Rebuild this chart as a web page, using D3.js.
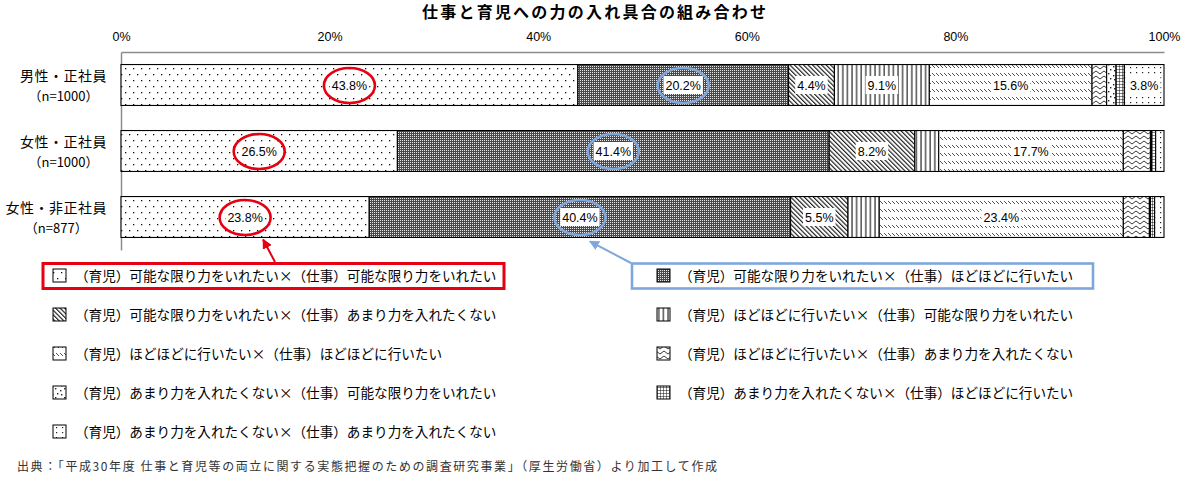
<!DOCTYPE html>
<html><head><meta charset="utf-8">
<script src="https://cdn.jsdelivr.net/npm/d3@7"></script>
<style>
html,body{margin:0;padding:0;background:#fff;}
svg{display:block;}
text{font-family:"Liberation Sans","Noto Sans CJK JP",sans-serif;}
.jp{font-family:"Noto Sans CJK JP","Liberation Sans",sans-serif;}
</style></head>
<body>
<svg id="chart" width="1186" height="484"></svg>
<script>
const title = "仕事と育児への力の入れ具合の組み合わせ";
const categories = ["男性・正社員", "女性・正社員", "女性・非正社員"];
const sampleSizes = ["（n=1000）", "（n=1000）", "（n=877）"];
const seriesNames = [
  "（育児）可能な限り力をいれたい×（仕事）可能な限り力をいれたい",
  "（育児）可能な限り力をいれたい×（仕事）ほどほどに行いたい",
  "（育児）可能な限り力をいれたい×（仕事）あまり力を入れたくない",
  "（育児）ほどほどに行いたい×（仕事）可能な限り力をいれたい",
  "（育児）ほどほどに行いたい×（仕事）ほどほどに行いたい",
  "（育児）ほどほどに行いたい×（仕事）あまり力を入れたくない",
  "（育児）あまり力を入れたくない×（仕事）可能な限り力をいれたい",
  "（育児）あまり力を入れたくない×（仕事）ほどほどに行いたい",
  "（育児）あまり力を入れたくない×（仕事）あまり力を入れたくない"
];
const kanouKanou = [43.8, 26.5, 23.8];
const kanouHodo  = [20.2, 41.4, 40.4];
const kanouAmari = [4.4, 8.2, 5.5];
const hodoKanou  = [9.1, 2.3, 3.0];
const hodoHodo   = [15.6, 17.7, 23.4];
const hodoAmari  = [1.4, 2.6, 2.5];
const amariKanou = [0.9, 0.1, 0.1];
const amariHodo  = [0.8, 0.4, 0.4];
const amariAmari = [3.8, 0.8, 0.9];
const tickValues = [0, 20, 40, 60, 80, 100];
const tickLabels = ["0%", "20%", "40%", "60%", "80%", "100%"];
const footnote = "出典：「平成30年度 仕事と育児等の両立に関する実態把握のための調査研究事業」（厚生労働省）より加工して作成";

const seriesValues = [kanouKanou, kanouHodo, kanouAmari, hodoKanou, hodoHodo, hodoAmari, amariKanou, amariHodo, amariAmari];

const svg = d3.select("#chart");
const defs = svg.append("defs");

// ---- patterns ----
function pat(id, w, h, bg) {
  const p = defs.append("pattern").attr("id", id).attr("patternUnits", "userSpaceOnUse")
    .attr("width", w).attr("height", h);
  p.append("rect").attr("width", w).attr("height", h).attr("fill", bg || "#fff");
  return p;
}
// 0 sparse offset dots
let p = pat("p0", 8, 12);
p.append("rect").attr("x", 1).attr("y", 2).attr("width", 1.3).attr("height", 1.3).attr("fill", "#111");
p.append("rect").attr("x", 5).attr("y", 8).attr("width", 1.3).attr("height", 1.3).attr("fill", "#111");
// 1 fine dark checker
p = pat("p1", 2, 2, "#4a4a4a");
p.append("rect").attr("x", 0).attr("y", 0).attr("width", 1).attr("height", 1).attr("fill", "#e8e8e8");
// 2 dense diagonal "\"
p = defs.append("pattern").attr("id", "p2").attr("patternUnits", "userSpaceOnUse")
  .attr("width", 3.2).attr("height", 10).attr("patternTransform", "rotate(-45)");
p.append("rect").attr("width", 3.2).attr("height", 10).attr("fill", "#fff");
p.append("line").attr("x1", 0.6).attr("y1", 0).attr("x2", 0.6).attr("y2", 10).attr("stroke", "#111").attr("stroke-width", 1.1);
// 3 vertical lines
p = pat("p3", 4.6, 10);
p.append("line").attr("x1", 1).attr("y1", 0).attr("x2", 1).attr("y2", 10).attr("stroke", "#111").attr("stroke-width", 1.1);
// 4 rows of short diagonal dashes
p = pat("p4", 4, 8);
p.append("line").attr("x1", 0).attr("y1", 1).attr("x2", 3).attr("y2", 4).attr("stroke", "#555").attr("stroke-width", 1);
// 5 waves
p = pat("p5", 8, 5);
p.append("path").attr("d", "M0,1 L4,4 L8,1").attr("fill", "none").attr("stroke", "#222").attr("stroke-width", 0.9);
// 6 confetti
p = pat("p6", 9, 9);
[[1, 1], [6, 3], [3, 6], [7, 7]].forEach(d => p.append("rect").attr("x", d[0]).attr("y", d[1]).attr("width", 1.4).attr("height", 1.4).attr("fill", "#222"));
// 7 grid
p = pat("p7", 3, 3);
p.append("path").attr("d", "M0,0 H3 M0,0 V3").attr("stroke", "#111").attr("stroke-width", 1);
// 8 regular dots
p = pat("p8", 6, 5);
p.append("rect").attr("x", 2).attr("y", 2).attr("width", 1.2).attr("height", 1.2).attr("fill", "#222");

const patterns = ["p0", "p1", "p2", "p3", "p4", "p5", "p6", "p7", "p8"];

// ---- markers ----
function marker(id, color) {
  defs.append("marker").attr("id", id).attr("viewBox", "0 0 10 10").attr("refX", 9).attr("refY", 5)
    .attr("markerWidth", 10).attr("markerHeight", 10).attr("markerUnits", "userSpaceOnUse").attr("orient", "auto")
    .append("path").attr("d", "M0,0 L10,5 L0,10 Z").attr("fill", color);
}
const RED = "#e60012", BLUE = "#7ea7dd";
marker("arrRed", RED);
marker("arrBlue", BLUE);

// ---- scales ----
const x = d3.scaleLinear().domain([0, 100]).range([121, 1164]);
const y = d3.scaleBand().domain(categories).range([52, 250]).paddingInner(0.38).paddingOuter(0.19);

// title
svg.append("text").attr("class", "jp").attr("x", 594).attr("y", 18).attr("text-anchor", "middle")
  .attr("font-size", 16).attr("font-weight", "bold").attr("textLength", 344).attr("lengthAdjust", "spacing")
  .text(title);

// top axis
const axT = svg.append("g").attr("transform", "translate(0,52)")
  .call(d3.axisTop(x).tickValues(tickValues).tickSize(0).tickPadding(11).tickFormat((d, i) => tickLabels[i]));
axT.select(".domain").attr("stroke", "#8c8c8c").attr("stroke-width", 1.5);
axT.selectAll("text").attr("font-size", 12.5).attr("fill", "#000").attr("font-family", "Liberation Sans, sans-serif");

// left axis
const axL = svg.append("g").attr("transform", "translate(121,0)")
  .call(d3.axisLeft(y).tickSize(0).tickSizeOuter(0).tickFormat(""));
axL.select(".domain").attr("stroke", "#8c8c8c").attr("stroke-width", 1.5);

// stacked data
const rows = categories.map((c, ci) => {
  let acc = 0;
  return seriesValues.map((vals, si) => {
    const v = vals[ci];
    const d = {cat: c, ci, si, v, x0: acc, x1: acc + v};
    acc += v;
    return d;
  });
});

const gBars = svg.append("g");
rows.forEach(r => {
  gBars.selectAll(null).data(r).enter().append("rect")
    .attr("x", d => x(d.x0)).attr("width", d => x(d.x1) - x(d.x0))
    .attr("y", d => y(d.cat)).attr("height", y.bandwidth())
    .attr("fill", d => "url(#" + patterns[d.si] + ")")
    .attr("stroke", "#000").attr("stroke-width", 1.1);
});

// labels
const gLab = svg.append("g");
rows.forEach(r => {
  r.filter(d => d.v >= 3.5).forEach(d => {
    const cx = x((d.x0 + d.x1) / 2), cy = y(d.cat) + y.bandwidth() / 2;
    const t = gLab.append("text").attr("x", cx).attr("y", cy).attr("dy", "0.36em")
      .attr("text-anchor", "middle").attr("font-size", 12.5).attr("fill", "#000")
      .text(d.v.toFixed(1) + "%");
    const w = t.node().getComputedTextLength();
    gLab.insert("rect", () => t.node()).attr("x", cx - w / 2 - 2).attr("y", cy - 9)
      .attr("width", w + 4).attr("height", 18).attr("fill", "#fff");
    if (d.si < 2) {
      gLab.append("ellipse").attr("cx", cx).attr("cy", cy + 0.5).attr("rx", 25.5).attr("ry", 17.5)
        .attr("fill", "none").attr("stroke", d.si === 0 ? RED : BLUE).attr("stroke-width", 2.6);
    }
  });
});

// category labels
categories.forEach((c, i) => {
  const cy = y(c) + y.bandwidth() / 2;
  const t = svg.append("text").attr("class", "jp").attr("x", 107).attr("y", cy - 9).attr("dy", "0.35em")
    .attr("text-anchor", "end").attr("font-size", 14).attr("letter-spacing", 0.5).text(c);
  const w = t.node().getComputedTextLength();
  svg.append("text").attr("class", "jp").attr("x", 107 - w / 2).attr("y", cy + 11).attr("dy", "0.35em")
    .attr("text-anchor", "middle").attr("font-size", 13).text(sampleSizes[i]);
});

// legend
const legend = svg.append("g");
seriesNames.forEach((name, i) => {
  const col = i % 2, row = Math.floor(i / 2);
  const lx = col === 0 ? 53 : 657;
  const ly = 276 + row * 39;
  legend.append("rect").attr("x", lx).attr("y", ly - 7).attr("width", 13).attr("height", 13)
    .attr("fill", "url(#" + patterns[i] + ")").attr("stroke", "#000").attr("stroke-width", 1);
  legend.append("text").attr("class", "jp").attr("x", lx + 22).attr("y", ly).attr("dy", "0.35em")
    .attr("font-size", 13.6).attr("fill", "#000").text(name);
});

// highlight boxes
svg.append("rect").attr("x", 43).attr("y", 263.5).attr("width", 461).attr("height", 25)
  .attr("fill", "none").attr("stroke", RED).attr("stroke-width", 3);
svg.append("rect").attr("x", 632).attr("y", 263.5).attr("width", 461).attr("height", 25)
  .attr("fill", "none").attr("stroke", BLUE).attr("stroke-width", 2.6);

// arrows from boxes to highlighted labels
const r3 = rows[2];
const barBottom = y(categories[2]) + y.bandwidth();
svg.append("line").attr("x1", 275).attr("y1", 262)
  .attr("x2", x((r3[0].x0 + r3[0].x1) / 2) + 18).attr("y2", barBottom + 2)
  .attr("stroke", RED).attr("stroke-width", 2).attr("marker-end", "url(#arrRed)");
svg.append("line").attr("x1", 631).attr("y1", 263)
  .attr("x2", x((r3[1].x0 + r3[1].x1) / 2) + 10).attr("y2", barBottom + 4)
  .attr("stroke", BLUE).attr("stroke-width", 2).attr("marker-end", "url(#arrBlue)");

// footnote
svg.append("text").attr("class", "jp").attr("x", 17).attr("y", 467).attr("dy", "0.35em")
  .attr("font-size", 12).attr("fill", "#333").attr("textLength", 700).attr("lengthAdjust", "spacing")
  .text(footnote);
</script>
</body></html>
